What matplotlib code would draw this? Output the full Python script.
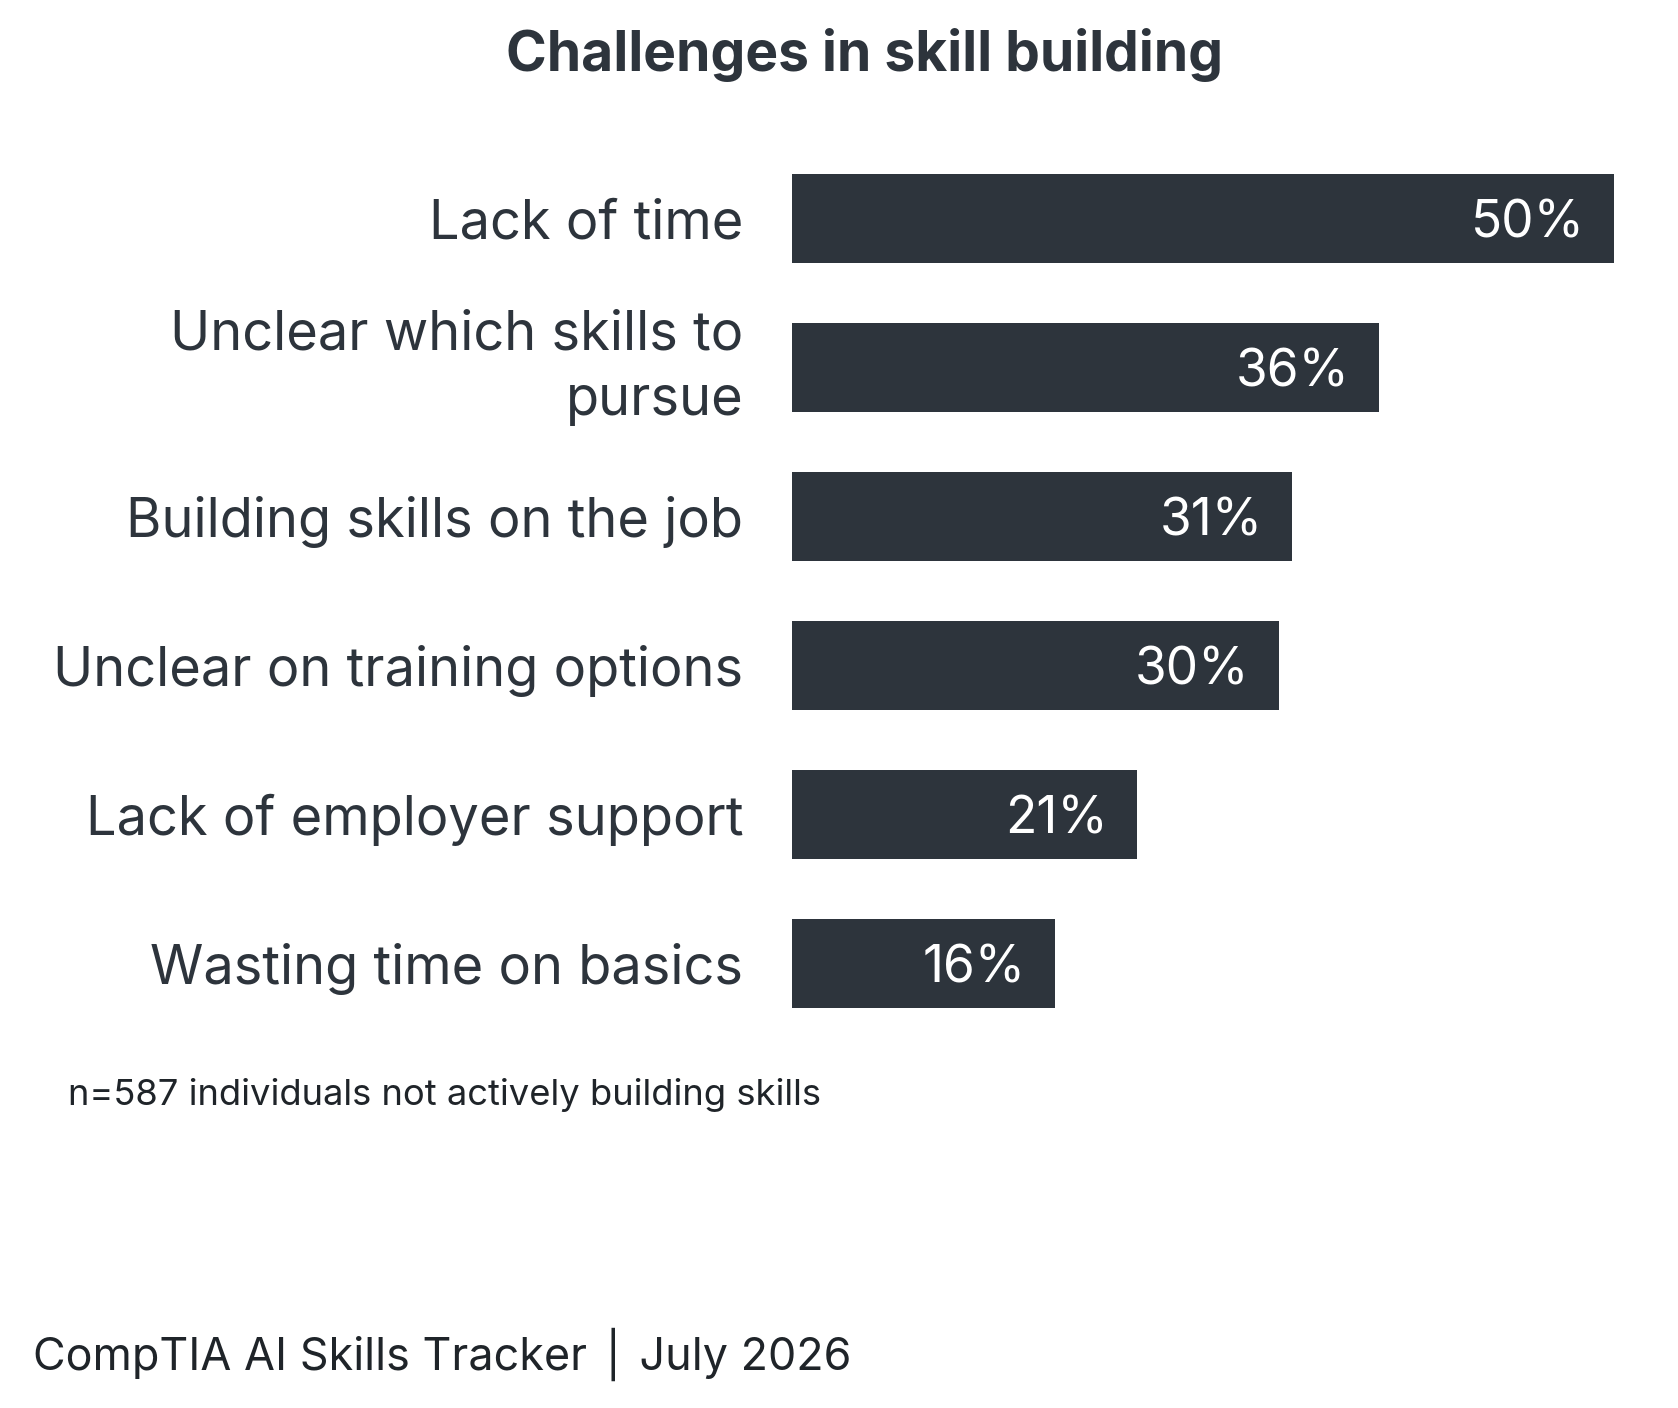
import matplotlib.pyplot as plt

categories = ["Lack of time", "Unclear which skills to\npursue", "Building skills on the job",
              "Unclear on training options", "Lack of employer support", "Wasting time on basics"]
values = [50.0, 35.7, 30.4, 29.6, 21.0, 16.0]
value_labels = ["50%", "36%", "31%", "30%", "21%", "16%"]

title = "Challenges in skill building"
note = "n=587 individuals not actively building skills"
source = "CompTIA AI Skills Tracker \u2502 July 2026"

dark = "#2d343c"
plt.rcParams['font.family'] = ['Inter', 'DejaVu Sans']

W, H = 1678, 1408
fig = plt.figure(figsize=(W / 100, H / 100), dpi=100)

# axes placed in pixel terms
left, right = 792, 1614
top, bottom = 144, 1038
ax = fig.add_axes([left / W, 1 - bottom / H, (right - left) / W, (bottom - top) / H])

y = range(len(categories))
ax.barh(y, values, height=0.6, color=dark)
ax.set_xlim(0, 50)
ax.set_ylim(len(categories) - 0.5, -0.5)
ax.set_yticks(list(y))
ax.set_yticklabels(categories, fontsize=39, color=dark, linespacing=1.35)
for t in ax.get_yticklabels():
    # wrapped labels look better centred as a block
    t.set_va('center' if '\n' in t.get_text() else 'center_baseline')
ax.tick_params(axis='y', length=0, pad=35)
ax.set_xticks([])
for s in ax.spines.values():
    s.set_visible(False)

for i, (v, lab) in enumerate(zip(values, value_labels)):
    ax.annotate(lab, (v, i), xytext=(-21, 0), textcoords='offset points',
                ha='right', va='center_baseline', color='white', fontsize=37)

fig.text(865 / W, 1 - 55 / H, title, ha='center', va='center', fontsize=39.7,
         fontweight='bold', color=dark)
fig.text(68 / W, 1 - 1095 / H, note, ha='left', va='center', fontsize=26.2, color='#1f2429')
fig.text(33 / W, 1 - 1354 / H, source, ha='left', va='center', fontsize=32.3, color='#1f2429')

fig.savefig("out.png", dpi=100)
